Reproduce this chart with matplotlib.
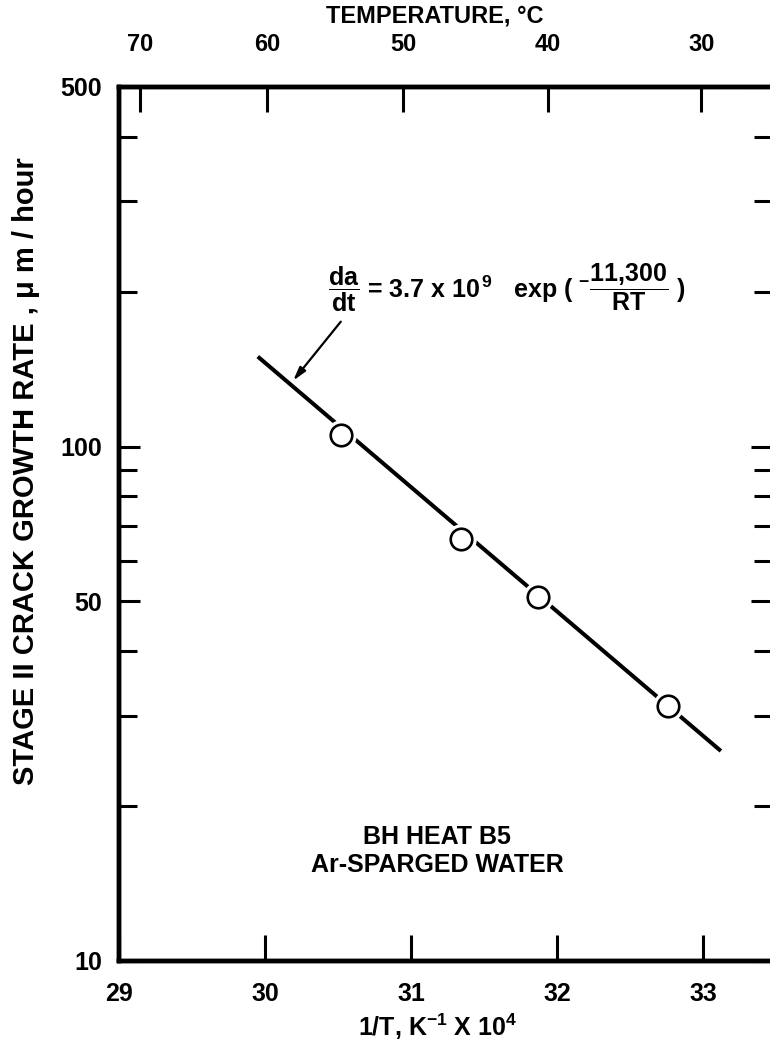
import matplotlib
matplotlib.use("Agg")
import matplotlib.pyplot as plt

# ---- data ----
inv_T = [30.52, 31.34, 31.87, 32.76]          # 1/T, K^-1 x 10^4
rate = [105.5, 66.2, 51.1, 31.3]              # um / hour
fit_x = [29.95, 33.12]
fit_y = [149.6, 25.6]
x_ticks = [29, 30, 31, 32, 33]
temp_ticks = [70, 60, 50, 40, 30]             # deg C
y_major = [10, 50, 100, 500]
y_minor = [20, 30, 40, 60, 70, 80, 90, 200, 300, 400]

FONT = 'Liberation Sans'
plt.rcParams['font.family'] = [FONT, 'DejaVu Sans']
plt.rcParams['font.weight'] = 'bold'
plt.rcParams['axes.labelweight'] = 'bold'
plt.rcParams['mathtext.fontset'] = 'custom'
for k in ['rm', 'it', 'bf', 'sf']:
    plt.rcParams['mathtext.' + k] = FONT + ':bold'

W, H = 770, 1042
fig = plt.figure(figsize=(W / 100, H / 100), dpi=100)
L, R, T, B = 119, 772, 87, 961
ax = fig.add_axes([L / W, (H - B) / H, (R - L) / W, (B - T) / H])

ax.set_yscale('log')
ax.set_xlim(29, 33.47)
ax.set_ylim(10, 500)

lw = 3.2
for s in ax.spines.values():
    s.set_linewidth(lw)

ax.plot(fit_x, fit_y, color='black', lw=2.9, solid_capstyle='butt', zorder=2)
ax.plot(inv_T, rate, linestyle='none', marker='o', markersize=22,
        markerfacecolor='white', markeredgecolor='white', markeredgewidth=0, zorder=3)
ax.plot(inv_T, rate, linestyle='none', marker='o', markersize=15.5,
        markerfacecolor='white', markeredgecolor='black', markeredgewidth=1.9, zorder=4)

ax.set_xticks(x_ticks)
ax.set_xticklabels([str(v) for v in x_ticks])
ax.set_yticks(y_major)
ax.set_yticklabels([str(v) for v in y_major])
ax.set_yticks(y_minor, minor=True)
ax.yaxis.set_minor_formatter(matplotlib.ticker.NullFormatter())
ax.tick_params(axis='x', which='major', direction='in', length=19, width=2.2,
               labelsize=18, pad=15)
ax.tick_params(axis='y', which='major', direction='in', length=15, width=2.2,
               labelsize=18, pad=12, right=True)
ax.tick_params(axis='y', which='minor', direction='in', length=13, width=2.2,
               right=True)

ax.set_xlabel(r'1/T, K$^{-1}$ X 10$^{4}$', fontsize=18)
ax.xaxis.set_label_coords(0.488, -0.058)
ax.set_ylabel('STAGE II CRACK GROWTH RATE , μ m / hour', fontsize=21)
ax.yaxis.set_label_coords(-0.121, 0.561)

# top temperature axis
axt = ax.twiny()
axt.set_xlim(ax.get_xlim())
axt.set_xticks([1e4 / (t + 273.15) for t in temp_ticks])
axt.set_xticklabels([str(t) for t in temp_ticks])
axt.tick_params(axis='x', direction='in', length=18, width=2.2, labelsize=17, pad=22)
axt.set_xlabel('TEMPERATURE, °C', fontsize=17)
axt.xaxis.set_label_coords(0.484, 1.074)
for s in axt.spines.values():
    s.set_linewidth(lw)

# equation + arrow
ax.annotate('', xy=(30.18, 133), xytext=(30.53, 176.6),
            arrowprops=dict(arrowstyle='-|>,head_length=0.8,head_width=0.22',
                            color='black', lw=1.6))
ax.text(0.32, 0.77,
        r'$\dfrac{da}{dt}$ = 3.7 x 10$^{\,9}$   exp ( $^{-}$$\dfrac{11{,}300}{RT}$ )',
        transform=ax.transAxes, fontsize=18, ha='left', va='center')

ax.text(0.487, 0.126, 'BH HEAT B5\nAr-SPARGED WATER', transform=ax.transAxes,
        fontsize=18, ha='center', va='center', linespacing=1.2)

fig.savefig('out.png', dpi=100)
